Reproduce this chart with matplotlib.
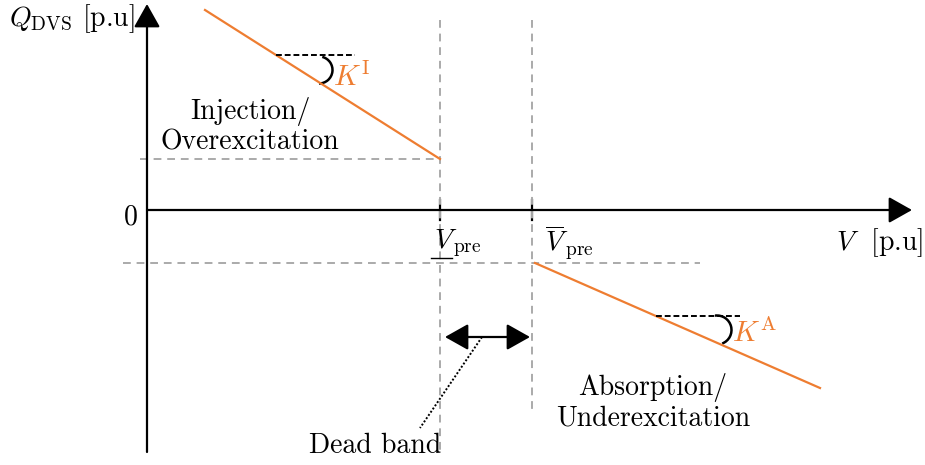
import matplotlib.pyplot as plt
from matplotlib.patches import Arc

plt.rcParams['mathtext.fontset'] = 'cm'
plt.rcParams['font.family'] = 'cmr10'
plt.rcParams['axes.unicode_minus'] = False

# sketch geometry (pixel-like units, y grows downward)
origin = (147, 210)
v_lo, v_hi = 440, 532                     # dead band edges
q_inj, q_abs = 159, 263                   # reactive power levels at the edges
inj_x = [205, v_lo]; inj_y = [10, q_inj]  # injection droop
abs_x = [535, 820]; abs_y = [q_abs, 388]  # absorption droop
orange = '#ee7d31'
grey = '#aaaaaa'
fs = 20

fig = plt.figure(figsize=(9.25, 4.65), dpi=100)
ax = fig.add_axes([0, 0, 1, 1])
ax.set_xlim(0, 925)
ax.set_ylim(465, 0)
ax.axis('off')

# axes with arrow heads
arr = dict(arrowstyle='-|>,head_length=0.8,head_width=0.45', mutation_scale=18,
           lw=1.6, color='k', shrinkA=0, shrinkB=0)
ax.annotate('', xy=(912, origin[1]), xytext=(origin[0], origin[1]), arrowprops=arr)
ax.annotate('', xy=(origin[0], 4), xytext=(origin[0], 452), arrowprops=arr)

# dead band ticks
for v in [v_lo, v_hi]:
    ax.plot([v, v], [200, 220], color='k', lw=1.6)

# grey guides
ax.plot([v_lo, v_lo], [20, 452], color=grey, lw=1.4, ls=(0, (4, 3)))
ax.plot([v_hi, v_hi], [20, 410], color=grey, lw=1.4, ls=(0, (4, 3)))
ax.plot([140, v_lo], [q_inj, q_inj], color=grey, lw=1.4, ls=(0, (4, 3)))
ax.plot([123, 700], [q_abs, q_abs], color=grey, lw=1.4, ls=(0, (4, 3)))

# droop lines
ax.plot(inj_x, inj_y, color=orange, lw=1.6)
ax.plot(abs_x, abs_y, color=orange, lw=1.6)

# slope markers: dashed reference, small angle arc, gain label
def slope_mark(xs, ys, yref, x_end, arc_c, r, t1, t2, label, lx, ly):
    k = (ys[1] - ys[0]) / (xs[1] - xs[0])
    x0 = xs[0] + (yref - ys[0]) / k
    ax.plot([x0, x_end], [yref, yref], color='k', lw=1.4, ls=(0, (3, 1.5)))
    ax.add_patch(Arc(arc_c, 2 * r, 2 * r, theta1=t1, theta2=t2, color='k', lw=1.8))
    ax.text(lx, ly, label, color=orange, fontsize=fs + 1, ha='left', va='center')

slope_mark(inj_x, inj_y, 55, 355, (319, 70), 13.5, -76, 90, r'$K^{\mathrm{I}}$', 333, 77)
slope_mark(abs_x, abs_y, 316, 740, (717, 330), 14.5, -98, 69, r'$K^{\mathrm{A}}$', 732, 333)

# dead band arrow
ax.annotate('', xy=(445, 337), xytext=(530, 337),
            arrowprops=dict(arrowstyle='<|-|>,head_length=0.8,head_width=0.45', mutation_scale=18,
                            lw=1.6, color='k', shrinkA=0, shrinkB=0))
ax.plot([482, 420], [337, 428], color='k', lw=1.4, ls=(0, (1, 1)))

# labels
ax.text(131, 217, '0', fontsize=fs, ha='center', va='center')
ax.text(72, 19, r'$Q_{\mathrm{DVS}}$ [p.u]', fontsize=fs, ha='center', va='center')
ax.text(880, 243, r'$V$  [p.u]', fontsize=fs, ha='center', va='center')
ax.text(458, 243, r'$V_{\,\mathrm{pre}}$', fontsize=fs, ha='center', va='center')
ax.plot([431, 452], [258, 258], color='k', lw=1.0)
ax.text(569, 243, r'$\overline{V}_{\,\mathrm{pre}}$', fontsize=fs, ha='center', va='center')
ax.text(250, 126, 'Injection/\nOverexcitation', fontsize=fs, ha='center', va='center',
        linespacing=1.15)
ax.text(653, 402, 'Absorption/\nUnderexcitation', fontsize=fs, ha='center', va='center',
        linespacing=1.15)
ax.text(375, 446, 'Dead band', fontsize=fs, ha='center', va='center')

fig.savefig('out.png', dpi=100)
